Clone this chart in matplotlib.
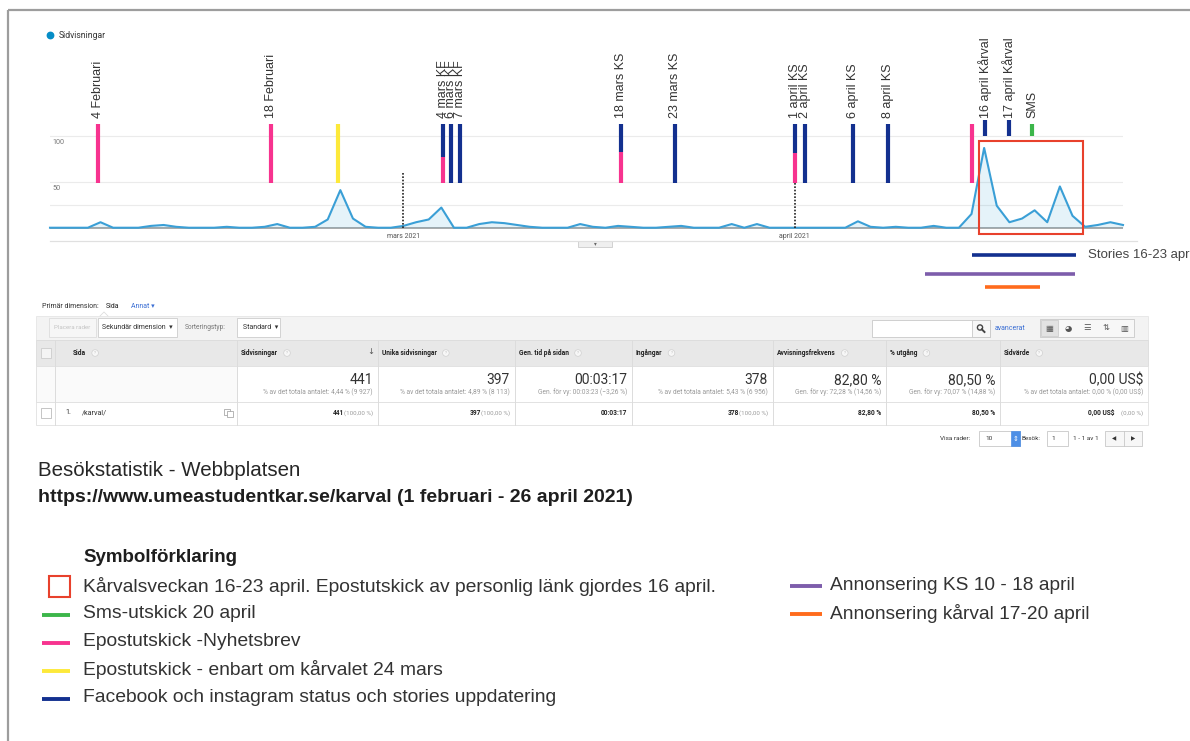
import matplotlib
matplotlib.use("Agg")
import matplotlib.pyplot as plt
from matplotlib.patches import Rectangle, Circle

plt.rcParams['font.family'] = ['Liberation Sans', 'DejaVu Sans']

W, H = 1190, 741

# ---------------- data ----------------
# daily page views, 1 Feb 2021 (index 0) .. 27 Apr 2021 (index 85)
pageviews = [0, 0, 0, 0, 6, 0, 0, 0, 2, 3,
             1, 0, 0, 0, 1, 0, 0, 1, 4, 0,
             0, 1, 9, 41, 10, 1, 0, 0, 2, 6,
             9, 22, 0, 0, 4, 6, 5, 3, 1, 0,
             0, 0, 4, 1, 0, 2, 1, 0, 0, 1,
             2, 0, 0, 0, 4, 0, 4, 0, 0, 0,
             0, 0, 0, 0, 7, 1, 0, 1, 0, 0,
             2, 0, 0, 15, 87, 24, 6, 10, 19, 6,
             45, 13, 1, 3, 6, 3]
days = list(range(len(pageviews)))

month_days = [28, 59]
month_labels = ["mars 2021", "april 2021"]
y_ticks = [100, 50]
grid_levels = [25, 50, 100]

# event markers (day index as placed in the picture)
event_days = [3.8, 17.5, 22.8, 31.1, 31.8, 32.5, 45.2, 49.5, 59.0, 59.8,
              63.6, 66.4, 73.0, 74.1, 76.0, 77.8]
event_labels = ["4 Februari", "18 Februari", "", "4 mars KF", "6 mars KF",
                "7 mars KF", "18 mars KS", "23 mars KS", "1 april KS",
                "2 april KS", "6 april KS", "8 april KS", "",
                "16 april Kårval", "17 april Kårval", "SMS"]
event_low = [49] * 13 + [100, 100, 100]
event_high = [113] * 13 + [117, 117, 113]
event_split = [None, None, None, 77, None, None, 82.5, None, 81.5, None,
               None, None, None, None, None, None]
event_kind = ["pink", "pink", "yellow", "navy", "navy", "navy", "navy", "navy",
              "navy", "navy", "navy", "navy", "pink", "navy", "navy", "green"]

# campaign periods drawn under the chart
camp_start = [73.0, 69.3, 74.1]
camp_end = [81.3, 81.2, 78.4]
camp_level = [-30, -50, -64.5]
camp_kind = ["navy", "purple", "orange"]
camp_label = ["Stories 16-23 april", "", ""]

# election week box
week_box = (73.6, 81.8, -7, 95)

COL = {"pink": "#f7338f", "navy": "#13308f", "yellow": "#fde93a",
       "green": "#3cb64a", "purple": "#7d5dab", "orange": "#ff6b1c",
       "red": "#e8412c", "blue": "#058dc7"}

# table
col_edges = [36, 55, 237, 378, 515, 632, 773, 886, 1000, 1148]
col_heads = ["", "Sida", "Sidvisningar", "Unika sidvisningar", "Gen. tid på sidan",
             "Ingångar", "Avvisningsfrekvens", "% utgång", "Sidvärde"]
tot_vals = ["441", "397", "00:03:17", "378", "82,80 %", "80,50 %", "0,00 US$"]
tot_sub = ["% av det totala antalet: 4,44 % (9 927)",
           "% av det totala antalet: 4,89 % (8 113)",
           "Gen. för vy: 00:03:23 (−3,26 %)",
           "% av det totala antalet: 5,43 % (6 956)",
           "Gen. för vy: 72,28 % (14,56 %)",
           "Gen. för vy: 70,07 % (14,88 %)",
           "% av det totala antalet: 0,00 % (0,00 US$)"]
row_vals = ["441", "397", "00:03:17", "378", "82,80 %", "80,50 %", "0,00 US$"]
row_pct = ["(100,00 %)", "(100,00 %)", "", "(100,00 %)", "", "", "(0,00 %)"]

legend_left = [("box", "red", "Kårvalsveckan 16-23 april. Epostutskick av personlig länk gjordes 16 april."),
               ("line", "green", "Sms-utskick 20 april"),
               ("line", "pink", "Epostutskick -Nyhetsbrev"),
               ("line", "yellow", "Epostutskick - enbart om kårvalet 24 mars"),
               ("line", "navy", "Facebook och instagram status och stories uppdatering")]
legend_right = [("purple", "Annonsering KS 10 - 18 april"),
                ("orange", "Annonsering kårval 17-20 april")]

# ---------------- figure ----------------
fig = plt.figure(figsize=(W / 100, H / 100), dpi=100)
fig.patch.set_facecolor("white")
renderer = fig.canvas.get_renderer()

ov = fig.add_axes([0, 0, 1, 1], zorder=0)
ov.set_xlim(0, W)
ov.set_ylim(H, 0)
ov.axis("off")

RF = ["Roboto", "DejaVu Sans"]


def box(x0, y0, x1, y1, fc="white", ec="#cfcfcf", lw=0.8, z=1):
    ov.add_patch(Rectangle((x0, y0), x1 - x0, y1 - y0, facecolor=fc,
                           edgecolor=ec, linewidth=lw, zorder=z))


def txt(x, y, s, size=5, color="#333333", ha="left", va="center", weight="normal",
        family=None, z=3):
    kw = {}
    if family:
        kw["family"] = family
    return ov.text(x, y, s, fontsize=size, color=color, ha=ha, va=va, weight=weight,
                   zorder=z, **kw)


def text_right_px(t):
    bb = t.get_window_extent(renderer=renderer)
    return bb.x1  # figure pixels == overlay x units (1:1)


# outer frame
ov.plot([8, 8], [10, H], color="#9d9d9d", lw=1.6, zorder=5, solid_capstyle="butt")
ov.plot([8, W], [10, 10], color="#9d9d9d", lw=1.6, zorder=5, solid_capstyle="butt")

# legend of GA chart
ov.add_patch(Circle((50.5, 35.5), 3.2, color=COL["blue"], zorder=3))
txt(59, 36, "Sidvisningar", size=6.2, family=RF)
for v in y_ticks:
    txt(52, 227.7 - v * 0.917 + 6.5, str(v), size=5.2, color="#777777", family=RF)

# tab under chart
box(578, 241, 612, 247, fc="#efefef", ec="#cccccc", lw=0.6)
txt(595, 244, "▾", size=4, color="#666666", ha="center", family=RF)

# ---------------- chart ----------------
ax = fig.add_axes([50 / W, 1 - 300 / H, 1073 / W, 280 / H], zorder=2)
ax.patch.set_alpha(0)
ax.set_xlim(0, 85)
ax.set_ylim(-78.8, 226.5)
ax.axis("off")

for g in grid_levels:
    ax.axhline(g, color="#ebebeb", lw=0.8, zorder=1)
ax.plot([0, 86.1], [-14.6, -14.6], color="#e0e0e0", lw=0.9, clip_on=False, zorder=1)
ax.axhline(0, color="#a5a5a5", lw=1.3, zorder=2)
ax.fill_between(days, pageviews, 0, color=COL["blue"], alpha=0.1, lw=0, zorder=2)
ax.plot(days, pageviews, color="#3a9fd6", lw=1.5, zorder=3, clip_on=False)

for d, lab in zip(month_days, month_labels):
    ax.text(d, -10, lab, fontsize=5, color="#555555", ha="center", va="center",
            family=RF)
ax.plot([month_days[0]] * 2, [0, 61], color="#222222", lw=1.2,
        linestyle=(0, (1, 1)), zorder=4)
ax.plot([month_days[1]] * 2, [0, 49], color="#222222", lw=1.2,
        linestyle=(0, (1, 1)), zorder=4)

for d, lab, lo, hi, sp, kind in zip(event_days, event_labels, event_low,
                                     event_high, event_split, event_kind):
    if sp is None:
        ax.plot([d, d], [lo, hi], color=COL[kind], lw=3.0,
                solid_capstyle="butt", zorder=5, clip_on=False)
    else:
        ax.plot([d, d], [sp, hi], color=COL[kind], lw=3.0,
                solid_capstyle="butt", zorder=5, clip_on=False)
        ax.plot([d, d], [lo, sp], color=COL["pink"], lw=3.0,
                solid_capstyle="butt", zorder=5, clip_on=False)
    if lab:
        ax.text(d, 119.5, lab, rotation=90, ha="center", va="bottom",
                fontsize=9, color="#333333", zorder=6)

bx0, bx1, by0, by1 = week_box
ax.add_patch(Rectangle((bx0, by0), bx1 - bx0, by1 - by0, fill=False,
                       edgecolor=COL["red"], lw=1.5, zorder=7, clip_on=False))

for s, e, lv, kind, lab in zip(camp_start, camp_end, camp_level, camp_kind, camp_label):
    ax.plot([s, e], [lv, lv], color=COL[kind], lw=2.6, solid_capstyle="butt",
            clip_on=False, zorder=5)
    if lab:
        ax.text(e + 0.9, lv, lab, fontsize=9.5, color="#444444", ha="left",
                va="center", clip_on=False)

# ---------------- table ----------------
t = txt(42, 306, "Primär dimension:", size=5, family=RF)
txt(106, 306, "Sida", size=5, family=RF, color="#222222")
txt(131, 306, "Annat ▾", size=5, family=RF, color="#3b6fd4")
ov.plot([100, 104, 108], [316, 312, 316], color="#dddddd", lw=0.6, zorder=4)

box(36, 316, 1148, 340, fc="#f3f3f3", ec="#e6e6e6", lw=0.6)
box(49, 318, 96, 337, fc="#f6f6f6", ec="#dddddd", lw=0.6, z=2)
txt(72.5, 327.5, "Placera rader", size=4.4, family=RF, color="#c4c4c4", ha="center")
box(98, 318, 177, 337, fc="white", ec="#cccccc", lw=0.6, z=2)
txt(102, 327.5, "Sekundär dimension  ▾", size=5, family=RF, color="#333333")
txt(185, 327.5, "Sorteringstyp:", size=4.8, family=RF, color="#777777")
box(237, 318, 280, 337, fc="white", ec="#cccccc", lw=0.6, z=2)
txt(243, 327.5, "Standard  ▾", size=5, family=RF)

box(872, 320, 990, 337, fc="white", ec="#c8c8c8", lw=0.6, z=2)
box(972, 320, 990, 337, fc="#f7f7f7", ec="#c8c8c8", lw=0.6, z=2)
ov.add_patch(Circle((980, 327.5), 2.6, fill=False, edgecolor="#444444", lw=1.0, zorder=4))
ov.plot([981.8, 984.5], [329.3, 332], color="#444444", lw=1.4, zorder=4)
txt(995, 328.5, "avancerat", size=5, family=RF, color="#3b6fd4")
box(1040, 319, 1134, 337, fc="#f7f7f7", ec="#c8c8c8", lw=0.6, z=2)
icons = ["▦", "◕", "☰", "⇅", "▥"]
for i, ic in enumerate(icons):
    x0 = 1040 + i * 18.8
    if i == 0:
        box(x0 + 1, 320, x0 + 18, 336, fc="#e2e2e2", ec="#c8c8c8", lw=0.5, z=2)
    txt(x0 + 9.4, 328, ic, size=6, ha="center", family="DejaVu Sans", color="#555555")

# header row
box(36, 340, 1148, 366, fc="#e8e8e8", ec="#dcdcdc", lw=0.6)
box(36, 366, 1148, 402, fc="white", ec="#e0e0e0", lw=0.6)
box(36, 402, 1148, 425, fc="white", ec="#e0e0e0", lw=0.6)
box(55, 366, 237, 402, fc="#fafafa", ec="#e0e0e0", lw=0.6)
box(36, 366, 55, 402, fc="#fafafa", ec="#e0e0e0", lw=0.6)
for x in col_edges[1:-1]:
    ov.plot([x, x], [340, 425], color="#dcdcdc", lw=0.7, zorder=2)
box(41, 348, 51, 358, fc="#f4f4f4", ec="#cccccc", lw=0.6, z=3)
box(41, 408, 51, 418, fc="white", ec="#bbbbbb", lw=0.6, z=3)

for i, h in enumerate(col_heads):
    if not h:
        continue
    x0 = col_edges[i] + (18 if i == 1 else 4)
    th = txt(x0, 353, h, size=4.8, weight="bold", family=RF, color="#222222")
    xr = text_right_px(th)
    ov.add_patch(Circle((xr + 9, 353), 3.3, facecolor="#f7f7f7",
                        edgecolor="#d0d0d0", lw=0.5, zorder=3))
    txt(xr + 9, 353, "?", size=3, ha="center", color="#bbbbbb", family=RF, z=4)
txt(371, 351, "↓", size=6, ha="center", color="#555555", family="DejaVu Sans")

for i in range(7):
    xr = col_edges[i + 3] - 5
    txt(xr, 380, tot_vals[i], size=10, ha="right", family=RF, color="#333333")
    txt(xr, 392, tot_sub[i], size=4.8, ha="right", family=RF, color="#9a9a9a")
    val = row_vals[i]
    if row_pct[i]:
        tp = txt(xr, 413, row_pct[i], size=4.4, ha="right", family=RF, color="#9a9a9a")
        bb = tp.get_window_extent(renderer=renderer)
        gap = 6 if i == 6 else 0
        txt(bb.x0 - gap, 413, val, size=4.8, ha="right", family=RF,
            weight="bold", color="#222222")
    else:
        txt(xr, 413, val, size=4.8, ha="right", family=RF, weight="bold",
            color="#222222")

txt(65, 413, "1.", size=5.2, family=RF)
txt(82, 413, "/karval/", size=5.2, family=RF)
box(224, 409, 230, 415, fc="white", ec="#999999", lw=0.5, z=3)
box(227, 411, 233, 417, fc="white", ec="#999999", lw=0.5, z=4)

# pagination
txt(940, 438.5, "Visa rader:", size=4.6, family=RF)
box(979, 431, 1020, 446, fc="white", ec="#c8c8c8", lw=0.6)
txt(985, 438.5, "10", size=4.6, family=RF)
box(1011, 431, 1020, 446, fc="#4d8fe6", ec="#4d8fe6", lw=0.5, z=2)
txt(1015.5, 438.5, "⇕", size=5, ha="center", color="white", family="DejaVu Sans")
txt(1022, 438.5, "Besök:", size=4.6, family=RF)
box(1047, 431, 1068, 446, fc="white", ec="#c8c8c8", lw=0.6)
txt(1051, 438.5, "1", size=4.6, family=RF)
txt(1073, 438.5, "1 - 1 av 1", size=4.6, family=RF)
box(1105, 431, 1142, 446, fc="#f7f7f7", ec="#c8c8c8", lw=0.6)
ov.plot([1123.5, 1123.5], [431, 446], color="#c8c8c8", lw=0.6, zorder=2)
txt(1114, 438.5, "◀", size=4, ha="center", color="#333333", family="DejaVu Sans")
txt(1133, 438.5, "▶", size=4, ha="center", color="#333333", family="DejaVu Sans")

# ---------------- text block ----------------
txt(38, 470, "Besökstatistik - Webbplatsen", size=14.8, color="#262626")
txt(38, 498, "https://www.umeastudentkar.se/karval (1 februari - 26 april 2021)",
    size=14.0, weight="bold", color="#1e1e1e")
txt(83, 558, "Symbolförklaring", size=13.5, weight="bold", color="#1e1e1e")

ly = 586
for kind, c, s in legend_left:
    if kind == "box":
        ov.add_patch(Rectangle((49, ly - 10.5), 21, 21, fill=False,
                               edgecolor=COL[c], lw=1.5, zorder=3))
    else:
        ov.plot([42, 70], [ly + 1.5, ly + 1.5], color=COL[c], lw=2.8,
                solid_capstyle="butt", zorder=3)
    txt(83, ly, s, size=13.9, color="#333333")
    ly += 27.8

ly = 586
for c, s in legend_right:
    ov.plot([790, 822], [ly, ly], color=COL[c], lw=2.8, solid_capstyle="butt", zorder=3)
    txt(830, ly, s, size=13.8, color="#333333")
    ly += 27.8

fig.savefig("out.png", dpi=100, facecolor="white")
